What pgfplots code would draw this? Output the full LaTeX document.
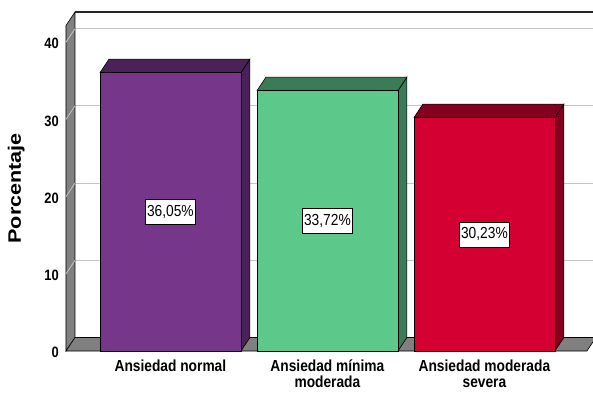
\documentclass[border=0pt]{standalone}
\usepackage{pgfplots}
\pgfplotsset{compat=1.18}
\usepackage{fontspec}
\setmainfont{Liberation Sans}
\newfontfamily\narrowsans{Liberation Sans}[FakeStretch=0.86]
\newfontfamily\widesans{Liberation Sans}[FakeStretch=1.2]

\definecolor{normalfront}{HTML}{763689}
\definecolor{normalside}{HTML}{4A2259}
\definecolor{minfront}{HTML}{5CC88A}
\definecolor{minside}{HTML}{3B7B55}
\definecolor{sevfront}{HTML}{D50032}
\definecolor{sevside}{HTML}{85001F}
\definecolor{wallgray}{HTML}{808080}
\definecolor{gridgray}{HTML}{C4C4C4}

% depth of the pseudo-3D solids, in axis units
\def\dx{0.0573}
\def\dy{1.75}
\def\hw{0.449}

\pgfplotsset{
  valuelabel/.style={
    point meta=explicit,
    nodes near coords={\pgfmathprintnumber[fixed,fixed zerofill,precision=2,use comma]{\pgfplotspointmeta}\%},
    nodes near coords style={fill=white, draw=black, line width=0.6pt, inner xsep=2pt,
      inner ysep=0pt, minimum height=25pt,
      anchor=center, font=\narrowsans\fontsize{16}{18}\selectfont, text=black},
  },
}

% one bar: side face, top face, front face and value label
\newcommand\solidbar[4]{%
  \pgfmathsetmacro\xl{#1-\hw}%
  \pgfmathsetmacro\xr{#1+\hw}%
  \pgfmathsetmacro\xlb{#1-\hw+\dx}%
  \pgfmathsetmacro\xrb{#1+\hw+\dx}%
  \pgfmathsetmacro\vt{#2+\dy}%
  \pgfmathsetmacro\vh{#2/2}%
  \edef\doit{%
    \noexpand\addplot[fill=#4, draw=black, line width=0.6pt]
      coordinates {(\xr,0) (\xr,#2) (\xrb,\vt) (\xrb,\dy) (\xr,0)};
    \noexpand\addplot[fill=#4, draw=black, line width=0.6pt]
      coordinates {(\xl,#2) (\xr,#2) (\xrb,\vt) (\xlb,\vt) (\xl,#2)};
    \noexpand\addplot[ybar, bar width=141pt, bar shift=0pt, fill=#3, draw=black, line width=0.7pt]
      coordinates {(#1,#2)};
    \noexpand\addplot[draw=none, valuelabel] coordinates {(#1,\vh) [#2]};
  }\doit}

\begin{document}
\begin{tikzpicture}
\begin{axis}[
  x=157pt, y=7.72pt,
  xmin=-0.665, xmax=2.7103,
  ymin=0, ymax=43.91,
  clip=false,
  axis line style={draw=none},
  major tick length=0pt,
  ytick={0,10,20,30,40},
  xtick={0,1,2},
  xticklabels={Ansiedad normal,{Ansiedad mínima\\moderada},{Ansiedad moderada\\severa}},
  /pgf/number format/assume math mode=true,
  yticklabel style={font=\narrowsans\fontsize{15}{17}\selectfont\bfseries, inner sep=0pt, xshift=-7pt, yshift=-1.5pt},
  xticklabel style={font=\narrowsans\fontsize{16}{15.5}\selectfont\bfseries, align=center, inner sep=0pt, yshift=-9pt},
  ylabel={Porcentaje},
  ylabel style={font=\widesans\fontsize{18}{20}\selectfont\bfseries, at={(axis description cs:-0.094,0.48)}, anchor=center, rotate=0},
]
  % back wall grid lines
  \pgfplotsinvokeforeach{10,20,30,40}{
    \draw[gridgray, line width=0.9pt] (axis cs:-0.6077,#1+1.75) -- (axis cs:2.7103,#1+1.75);
  }
  % left wall
  \draw[fill=wallgray, draw=black, line width=0.6pt]
    (axis cs:-0.665,0) -- (axis cs:-0.665,42.16) -- (axis cs:-0.6077,43.91) -- (axis cs:-0.6077,1.75) -- cycle;
  \pgfplotsinvokeforeach{10,20,30,40}{
    \draw[gridgray, line width=0.8pt] (axis cs:-0.665,#1) -- (axis cs:-0.6077,#1+1.75);
  }
  % floor
  \draw[fill=wallgray, draw=black, line width=0.6pt]
    (axis cs:-0.665,0) -- (axis cs:2.653,0) -- (axis cs:2.7103,1.75) -- (axis cs:-0.6077,1.75) -- cycle;
  % top edge of the back wall
  \draw[black!85, line width=1.2pt] (axis cs:-0.6077,43.91) -- (axis cs:2.7103,43.91);
  \coordinate (O) at (axis cs:-0.665,0);

  \solidbar{0}{36.05}{normalfront}{normalside}
  \solidbar{1}{33.72}{minfront}{minside}
  \solidbar{2}{30.23}{sevfront}{sevside}
\end{axis}
\pgfresetboundingbox
\path[use as bounding box] (O) ++(-66pt,-41pt) rectangle ++(593pt,392pt);
\end{tikzpicture}
\end{document}
